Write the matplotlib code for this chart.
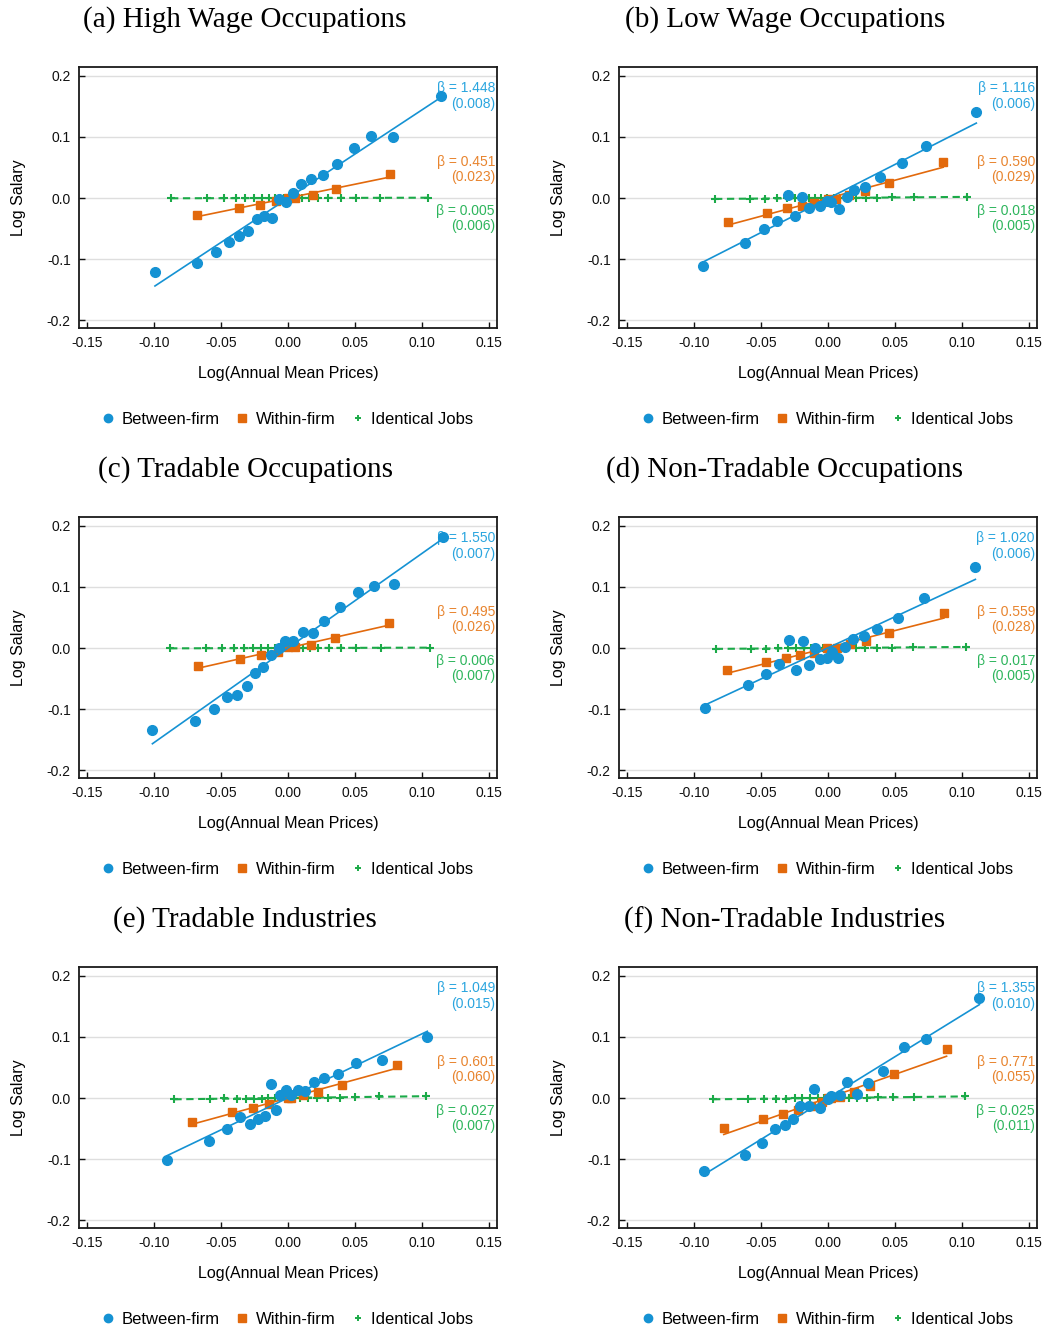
import numpy as np
import matplotlib
matplotlib.use("Agg")
import matplotlib.pyplot as plt
from matplotlib.lines import Line2D

plt.rcParams["font.family"] = ["Liberation Sans", "DejaVu Sans"]
plt.rcParams["axes.unicode_minus"] = False

BLUE = "#1592D3"
ORANGE = "#E2690C"
GREEN = "#1BAA48"
BLUE_TXT = "#2AA5DF"
ORANGE_TXT = "#E8842E"
GREEN_TXT = "#2DB55C"

titles = ["(a) High Wage Occupations", "(b) Low Wage Occupations",
          "(c) Tradable Occupations", "(d) Non-Tradable Occupations",
          "(e) Tradable Industries", "(f) Non-Tradable Industries"]

# slopes and standard errors: between-firm, within-firm, identical jobs
beta_b = [1.448, 1.116, 1.550, 1.020, 1.049, 1.355]
se_b = ["0.008", "0.006", "0.007", "0.006", "0.015", "0.010"]
beta_w = [0.451, 0.590, 0.495, 0.559, 0.601, 0.771]
se_w = ["0.023", "0.029", "0.026", "0.028", "0.060", "0.055"]
beta_i = [0.005, 0.018, 0.006, 0.017, 0.027, 0.025]
se_i = ["0.006", "0.005", "0.007", "0.005", "0.007", "0.011"]

# (a) high wage occupations
bx_a = [-0.0993, -0.0678, -0.0541, -0.0444, -0.0364, -0.0299, -0.0234, -0.0177, -0.0122, -0.0070,
        -0.0015, 0.0040, 0.0100, 0.0172, 0.0259, 0.0364, 0.0494, 0.0623, 0.0786, 0.1140]
by_a = [-0.1215, -0.1057, -0.0888, -0.0714, -0.0616, -0.0545, -0.0338, -0.0300, -0.0322, -0.0011,
        -0.0060, 0.0082, 0.0229, 0.0311, 0.0381, 0.0550, 0.0817, 0.1014, 0.0997, 0.1673]
wx_a = [-0.0678, -0.0364, -0.0207, -0.0087, 0.0000, 0.0055, 0.0185, 0.0362, 0.0758]
wy_a = [-0.0272, -0.0158, -0.0109, -0.0054, 0.0005, 0.0005, 0.0054, 0.0153, 0.0392]
ix_a = [-0.0873, -0.0603, -0.0481, -0.0389, -0.0324, -0.0257, -0.0197, -0.0145, -0.0095, -0.0057, -0.0027,
        0.0005, 0.0037, 0.0070, 0.0102, 0.0157, 0.0222, 0.0299, 0.0392, 0.0504, 0.0683, 0.1047]
iy_a = [-0.0004, -0.0003, -0.0002, -0.0002, -0.0002, -0.0001, -0.0001, -0.0001, 0.0, 0.0, 0.0,
        0.0, 0.0, 0.0, 0.0001, 0.0001, 0.0001, 0.0001, 0.0002, 0.0003, 0.0003, 0.0005]

# (b) low wage occupations
bx_b = [-0.0933, -0.0616, -0.0479, -0.0379, -0.0302, -0.0244, -0.0195, -0.0145, -0.0057, -0.0007,
        0.0025, 0.0080, 0.0140, 0.0197, 0.0279, 0.0387, 0.0549, 0.0728, 0.1107]
by_b = [-0.1106, -0.0730, -0.0507, -0.0376, 0.0049, -0.0294, 0.0022, -0.0163, -0.0125, -0.0044,
        -0.0060, -0.0174, 0.0022, 0.0131, 0.0185, 0.0343, 0.0567, 0.0850, 0.1411]
wx_b = [-0.0748, -0.0454, -0.0304, -0.0192, -0.0105, 0.0000, 0.0062, 0.0155, 0.0279, 0.0459, 0.0860]
wy_b = [-0.0392, -0.0245, -0.0163, -0.0131, -0.0087, -0.0011, -0.0011, 0.0054, 0.0120, 0.0245, 0.0594]
ix_b = [-0.0843, -0.0584, -0.0469, -0.0379, -0.0307, -0.0247, -0.0192, -0.0142, -0.0097, -0.0052,
        -0.0005, 0.0042, 0.0087, 0.0142, 0.0212, 0.0284, 0.0367, 0.0479, 0.0641, 0.1035]
iy_b = [-0.0015, -0.0011, -0.0008, -0.0007, -0.0006, -0.0004, -0.0003, -0.0003, -0.0002, -0.0001,
        0.0, 0.0001, 0.0002, 0.0003, 0.0004, 0.0005, 0.0007, 0.0009, 0.0012, 0.0019]

# (c) tradable occupations
bx_c = [-0.1012, -0.0693, -0.0556, -0.0459, -0.0379, -0.0309, -0.0244, -0.0185, -0.0125, -0.0070,
        -0.0020, 0.0040, 0.0110, 0.0185, 0.0272, 0.0387, 0.0521, 0.0643, 0.0793, 0.1155]
by_c = [-0.1351, -0.1188, -0.1003, -0.0807, -0.0763, -0.0616, -0.0414, -0.0305, -0.0120, 0.0000,
        0.0120, 0.0120, 0.0262, 0.0245, 0.0447, 0.0665, 0.0910, 0.1019, 0.1046, 0.1820]
wx_c = [-0.0671, -0.0357, -0.0200, -0.0075, 0.0000, 0.0055, 0.0172, 0.0352, 0.0751]
wy_c = [-0.0289, -0.0174, -0.0109, -0.0060, 0.0011, 0.0011, 0.0054, 0.0169, 0.0414]
ix_c = [-0.0880, -0.0611, -0.0491, -0.0404, -0.0329, -0.0262, -0.0202, -0.0147, -0.0100, -0.0055, -0.0015,
        0.0025, 0.0067, 0.0112, 0.0162, 0.0227, 0.0307, 0.0399, 0.0511, 0.0696, 0.1060]
iy_c = [-0.0005, -0.0004, -0.0003, -0.0002, -0.0002, -0.0002, -0.0001, -0.0001, -0.0001, 0.0, 0.0,
        0.0, 0.0, 0.0001, 0.0001, 0.0001, 0.0002, 0.0002, 0.0003, 0.0004, 0.0006]

# (d) non-tradable occupations
bx_d = [-0.0915, -0.0599, -0.0464, -0.0367, -0.0294, -0.0237, -0.0190, -0.0142, -0.0095, -0.0057,
        -0.0010, 0.0027, 0.0075, 0.0125, 0.0190, 0.0267, 0.0369, 0.0521, 0.0718, 0.1100]
by_d = [-0.0975, -0.0599, -0.0425, -0.0262, 0.0136, -0.0360, 0.0109, -0.0283, -0.0005, -0.0174,
        -0.0158, -0.0071, -0.0169, 0.0022, 0.0147, 0.0196, 0.0305, 0.0496, 0.0812, 0.1335]
wx_d = [-0.0756, -0.0461, -0.0312, -0.0207, -0.0107, -0.0007, 0.0070, 0.0167, 0.0284, 0.0459, 0.0865]
wy_d = [-0.0360, -0.0223, -0.0158, -0.0114, -0.0076, 0.0005, 0.0005, 0.0060, 0.0120, 0.0240, 0.0572]
ix_d = [-0.0838, -0.0576, -0.0461, -0.0374, -0.0299, -0.0237, -0.0180, -0.0127, -0.0077, -0.0037,
        0.0002, 0.0042, 0.0085, 0.0137, 0.0207, 0.0279, 0.0364, 0.0474, 0.0636, 0.1027]
iy_d = [-0.0014, -0.0010, -0.0008, -0.0006, -0.0005, -0.0004, -0.0003, -0.0002, -0.0001, -0.0001,
        0.0, 0.0001, 0.0001, 0.0002, 0.0004, 0.0005, 0.0006, 0.0008, 0.0011, 0.0017]

# (e) tradable industries
bx_e = [-0.0903, -0.0586, -0.0454, -0.0359, -0.0287, -0.0224, -0.0170, -0.0130, -0.0090, -0.0057,
        -0.0015, 0.0025, 0.0075, 0.0130, 0.0192, 0.0272, 0.0372, 0.0509, 0.0698, 0.1040]
by_e = [-0.1014, -0.0698, -0.0512, -0.0316, -0.0431, -0.0338, -0.0289, 0.0229, -0.0191, 0.0054,
        0.0131, 0.0054, 0.0131, 0.0109, 0.0256, 0.0322, 0.0398, 0.0567, 0.0627, 0.1003]
wx_e = [-0.0716, -0.0416, -0.0262, -0.0140, 0.0000, 0.0025, 0.0110, 0.0224, 0.0404, 0.0810]
wy_e = [-0.0392, -0.0229, -0.0158, -0.0098, 0.0000, 0.0000, 0.0044, 0.0098, 0.0213, 0.0545]
ix_e = [-0.0848, -0.0584, -0.0474, -0.0384, -0.0312, -0.0252, -0.0197, -0.0147, -0.0100, -0.0057,
        -0.0012, 0.0030, 0.0087, 0.0152, 0.0219, 0.0297, 0.0387, 0.0499, 0.0678, 0.1030]
iy_e = [-0.0015, -0.0012, 0.0005, -0.0015, -0.0008, -0.0012, -0.0010, -0.0005, -0.0002, 0.0,
        0.0002, 0.0005, 0.0008, 0.0002, 0.0006, 0.0005, 0.0006, 0.0012, 0.0040, 0.0027]

# (f) non-tradable industries
bx_f = [-0.0928, -0.0618, -0.0491, -0.0399, -0.0324, -0.0262, -0.0207, -0.0140, -0.0105, -0.0057,
        0.0000, 0.0025, 0.0090, 0.0140, 0.0214, 0.0297, 0.0414, 0.0564, 0.0728, 0.1130]
by_f = [-0.1188, -0.0926, -0.0736, -0.0512, -0.0447, -0.0349, -0.0125, -0.0136, 0.0142, -0.0158,
        -0.0020, 0.0027, 0.0054, 0.0262, 0.0065, 0.0245, 0.0447, 0.0839, 0.0959, 0.1646]
wx_f = [-0.0778, -0.0486, -0.0337, -0.0224, -0.0127, -0.0045, 0.0000, 0.0025, 0.0087, 0.0197, 0.0317,
        0.0494, 0.0885]
wy_f = [-0.0490, -0.0343, -0.0262, -0.0191, -0.0125, -0.0071, 0.0005, 0.0000, 0.0011, 0.0104, 0.0202,
        0.0398, 0.0801]
ix_f = [-0.0858, -0.0596, -0.0474, -0.0389, -0.0312, -0.0249, -0.0192, -0.0132, -0.0077, -0.0027,
        0.0017, 0.0060, 0.0102, 0.0157, 0.0219, 0.0292, 0.0372, 0.0486, 0.0641, 0.1022]
iy_f = [-0.0016, -0.0015, -0.0010, -0.0008, -0.0008, -0.0006, -0.0005, -0.0003, -0.0002, -0.0001,
        0.0, 0.0002, 0.0003, 0.0004, 0.0006, 0.0008, 0.0010, 0.0012, 0.0016, 0.0026]

panels = [
    (bx_a, by_a, wx_a, wy_a, ix_a, iy_a),
    (bx_b, by_b, wx_b, wy_b, ix_b, iy_b),
    (bx_c, by_c, wx_c, wy_c, ix_c, iy_c),
    (bx_d, by_d, wx_d, wy_d, ix_d, iy_d),
    (bx_e, by_e, wx_e, wy_e, ix_e, iy_e),
    (bx_f, by_f, wx_f, wy_f, ix_f, iy_f),
]

xticks = [-0.15, -0.10, -0.05, 0.00, 0.05, 0.10, 0.15]
yticks = [-0.2, -0.1, 0.0, 0.1, 0.2]


def fit_line(x, y, beta):
    # line with the reported slope through the mean of the binned points
    x = np.asarray(x)
    y = np.asarray(y)
    a = y.mean() - beta * x.mean()
    xs = np.array([x.min(), x.max()])
    return xs, a + beta * xs


W, H = 1045, 1330
fig = plt.figure(figsize=(W / 100, H / 100), dpi=100)

lefts = [79, 619]
tops = [67, 517, 967]
aw, ah = 418, 261
title_cx = [245, 785]

for k, (bx, by, wx, wy, ix, iy) in enumerate(panels):
    r, c = divmod(k, 2)
    ax = fig.add_axes([lefts[c] / W, 1 - (tops[r] + ah) / H, aw / W, ah / H])

    ax.set_xlim(-0.156, 0.156)
    ax.set_ylim(-0.213, 0.2147)
    ax.set_xticks(xticks)
    ax.set_xticklabels([f"{t:.2f}" for t in xticks])
    ax.set_yticks(yticks)
    ax.set_yticklabels([f"{t:.1f}" for t in yticks])
    ax.tick_params(direction="in", length=4, width=1, labelsize=10, pad=6, colors="#111111")
    for s in ax.spines.values():
        s.set_linewidth(1.3)
        s.set_color("#1a1a1a")
    ax.grid(axis="y", color="#dedede", lw=1)
    ax.set_axisbelow(True)

    # identical jobs
    xs, ys = fit_line(ix, iy, beta_i[k])
    ax.plot(ix, iy, ls="none", marker="+", ms=5.5, mew=1.5, color=GREEN, zorder=3)
    ax.plot(xs, ys, color=GREEN, lw=1.5, dashes=(3.5, 2.2), zorder=3)

    # within-firm
    xs, ys = fit_line(wx, wy, beta_w[k])
    ax.plot(xs, ys, color=ORANGE, lw=1.2, zorder=4)
    ax.plot(wx, wy, ls="none", marker="s", ms=6.3, color=ORANGE, zorder=4)

    # between-firm
    xs, ys = fit_line(bx, by, beta_b[k])
    ax.plot(xs, ys, color=BLUE, lw=1.2, zorder=5)
    ax.plot(bx, by, ls="none", marker="o", ms=7, color=BLUE, zorder=5)

    txt = dict(transform=ax.transAxes, ha="right", va="center", fontsize=10,
               linespacing=1.15)
    ax.text(0.995, 0.889, f"\u03b2 = {beta_b[k]:.3f}\n({se_b[k]})", color=BLUE_TXT, **txt)
    ax.text(0.995, 0.607, f"\u03b2 = {beta_w[k]:.3f}\n({se_w[k]})", color=ORANGE_TXT, **txt)
    ax.text(0.995, 0.420, f"\u03b2 = {beta_i[k]:.3f}\n({se_i[k]})", color=GREEN_TXT, **txt)

    ax.set_xlabel("Log(Annual Mean Prices)", fontsize=11.5, labelpad=11)
    ax.set_ylabel("Log Salary", fontsize=11.5, labelpad=15)

    handles = [
        Line2D([], [], ls="none", marker="o", ms=6, color=BLUE),
        Line2D([], [], ls="none", marker="s", ms=5.5, color=ORANGE),
        Line2D([], [], ls="none", marker="+", ms=4.5, mew=1.4, color=GREEN),
    ]
    ax.legend(handles, ["Between-firm", "Within-firm", "Identical Jobs"],
              loc="center", bbox_to_anchor=(0.5, -0.349), ncol=3, frameon=False,
              fontsize=12, handlelength=0.7, handletextpad=0.45, columnspacing=1.0)

    fig.text(title_cx[c] / W, 1 - (tops[r] - 47) / H, titles[k], ha="center", va="center",
             fontsize=21, family=["Liberation Serif", "DejaVu Serif"])

fig.savefig("out.png", dpi=100, facecolor="white")
